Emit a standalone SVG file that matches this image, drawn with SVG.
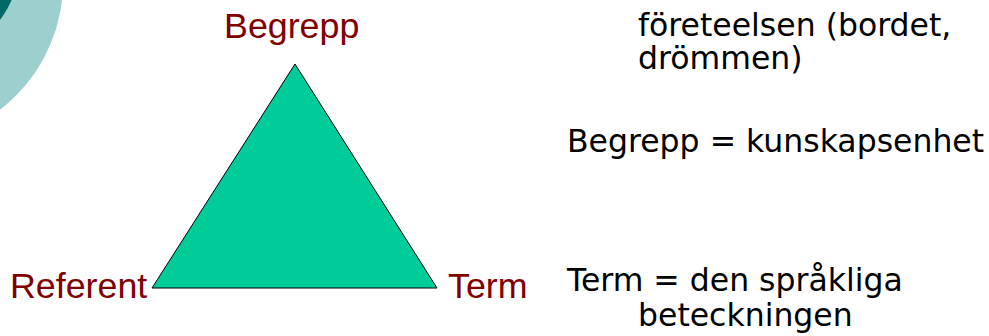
<svg xmlns="http://www.w3.org/2000/svg" width="989" height="336" viewBox="0 0 989 336">
  <style>
    .lbl { font-family: "Liberation Sans", Arial, sans-serif; font-size: 35.8px; fill: #800000; }
    .txt { font-family: "DejaVu Sans", Verdana, sans-serif; font-size: 31.5px; fill: #000000; }
  </style>
  <rect width="989" height="336" fill="#ffffff"/>
  <g id="decor">
    <circle cx="-98" cy="-18" r="161" fill="#9ECFCF"/>
    <circle cx="-80" cy="-40" r="100" fill="#006B66"/>
  </g>
  <g id="triangle">
    <polygon points="295,64 152,288 437,288" fill="#00CC99" stroke="#000000" stroke-width="1"/>
  </g>
  <g id="node-begrepp">
    <text class="lbl" x="224" y="38">Begrepp</text>
  </g>
  <g id="node-referent">
    <text class="lbl" x="10" y="298">Referent</text>
  </g>
  <g id="node-term">
    <text class="lbl" x="448" y="298">Term</text>
  </g>
  <g id="connectors"></g>
  <g id="notes">
    <text class="txt" x="638" y="36">företeelsen (bordet,</text>
    <text class="txt" x="638" y="69">drömmen)</text>
    <text class="txt" x="567" y="152">Begrepp = kunskapsenhet</text>
    <text class="txt" x="567" y="291">Term = den språkliga</text>
    <text class="txt" x="638" y="326">beteckningen</text>
  </g>
</svg>
